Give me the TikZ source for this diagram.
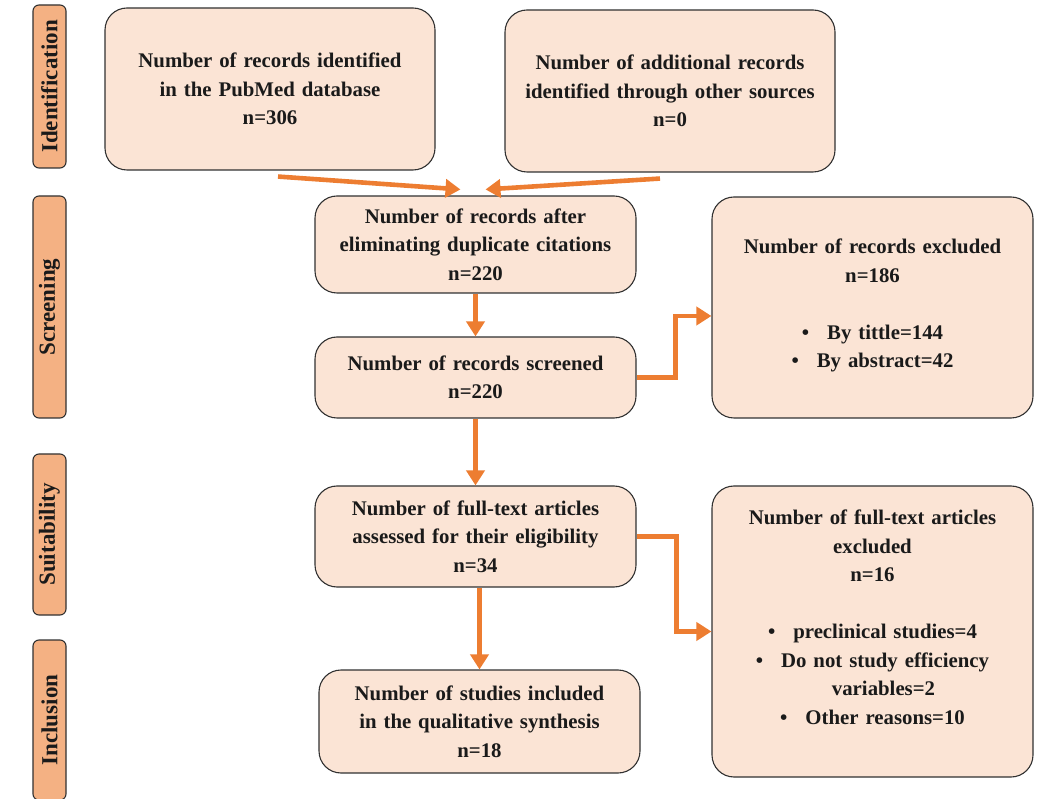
\documentclass[tikz,border=0pt]{standalone}
\usepackage{fontspec}
\setmainfont{Liberation Serif}
\usetikzlibrary{arrows.meta, positioning}
\definecolor{ink}{HTML}{1A1A1A}
\definecolor{peachA}{HTML}{FBE4D5}
\definecolor{peachB}{HTML}{F4B183}
\definecolor{orangeB}{HTML}{ED7D31}
\tikzset{
  boxtext/.style={font=\bfseries\fontsize{20.8}{28.5}\selectfont, text=ink},
  box/.style={boxtext, rounded corners=22pt, draw=ink!90, line width=1.1pt, fill=peachA, align=center, inner sep=4pt},
  phasetab/.style={font=\bfseries\fontsize{23}{25}\selectfont, text=ink, rotate=90, rounded corners=6pt, draw=ink!90, line width=1.1pt, fill=peachB, minimum height=33pt, inner sep=1pt},
  arrow/.style={-{Triangle[length=15pt,width=18pt]}, line width=4.6pt, draw=orangeB}
}
\newcommand{\bul}{\textbullet\hspace{18pt}}

\begin{document}
\begin{tikzpicture}[x=1pt,y=1pt]
\useasboundingbox (0,0) rectangle (1043,798);

% phase tabs
\node[phasetab, minimum width=163pt] (tabid) at (49.5,711.5) {Identification};
\node[phasetab, minimum width=222pt] (tabscr) at (49.5,491) {Screening};
\node[phasetab, minimum width=161pt] (tabsuit) at (49.5,263.5) {Suitability};
\node[phasetab, minimum width=160pt] (tabinc) at (49.5,78) {Inclusion};

% flow boxes
\node[box, minimum width=330pt, minimum height=162pt, text width=320pt] (pubmed) at (270,709) {
Number of records identified\\ in the PubMed database\\ n=306};
\node[box, minimum width=330pt, minimum height=162pt, text width=320pt] (other) at (670,707) {
Number of additional records\\ identified through other sources\\ n=0};
\node[box, minimum width=321pt, minimum height=97pt, text width=312pt] (dupl) at (475.5,553.5) {
Number of records after\\ eliminating duplicate citations\\ n=220};
\node[box, minimum width=321pt, minimum height=81pt, text width=312pt] (screen) at (475.5,420.5) {
Number of records screened\\ n=220};
\node[box, minimum width=321pt, minimum height=221pt, text width=312pt] (excl) at (872.5,490.5) {
Number of records excluded\\ n=186\\[28.5pt] \bul By tittle=144\\ \bul By abstract=42\\[-20pt]\mbox{}};
\node[box, minimum width=321pt, minimum height=101pt, text width=312pt] (assess) at (475.5,261.5) {
Number of full-text articles\\ assessed for their eligibility\\ n=34};
\node[box, minimum width=321pt, minimum height=291pt, text width=312pt] (ftexcl) at (872.5,166.5) {
Number of full-text articles\\ excluded\\ n=16\\[28.5pt] \bul preclinical studies=4\\ \bul Do not study efficiency\\ \hspace{22pt}variables=2\\ \bul Other reasons=10\\[0pt]\mbox{}};
\node[box, minimum width=321pt, minimum height=103pt, text width=312pt] (incl) at (479.5,76.5) {
Number of studies included\\ in the qualitative synthesis\\ n=18};

% connectors
\draw[arrow] ([xshift=8pt,yshift=-6pt]pubmed.south) -- ([xshift=-15pt,yshift=6pt]dupl.north);
\draw[arrow] ([xshift=-10pt,yshift=-6pt]other.south) -- ([xshift=10pt,yshift=6pt]dupl.north);
\draw[arrow] (dupl.south) -- (screen.north);
\draw[arrow] (screen.south) -- (assess.north);
\draw[arrow] ([xshift=4pt]assess.south) -- ([xshift=0pt]incl.north);
\draw[arrow] (screen.east) -- ++(39,0) |- ([yshift=-8.5pt]excl.west);
\draw[arrow] (assess.east) -- ++(40,0) |- (ftexcl.west);

\end{tikzpicture}
\end{document}
